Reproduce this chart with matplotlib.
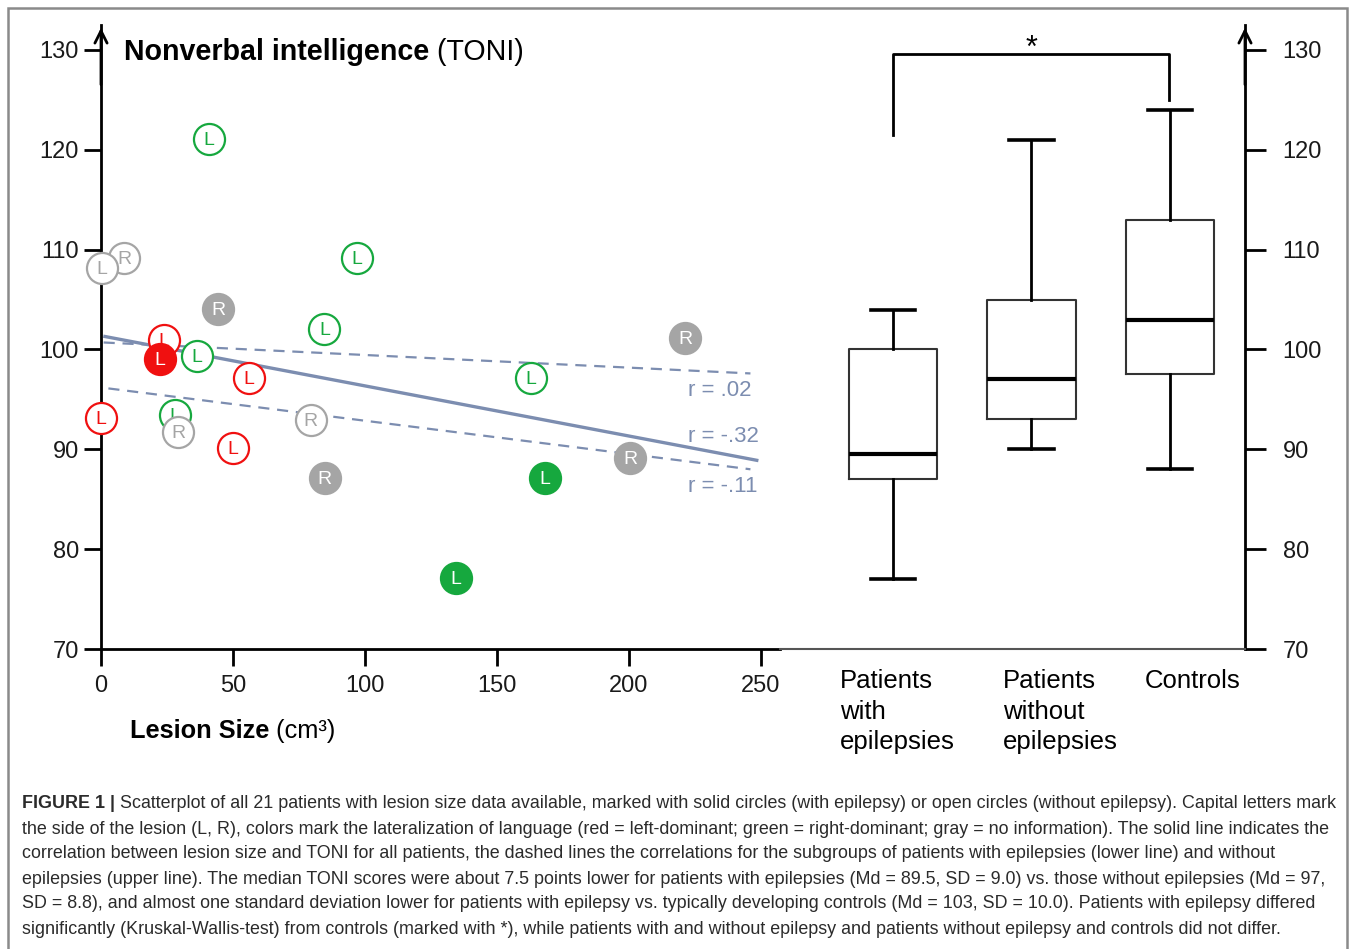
import matplotlib
matplotlib.use("Agg")
import matplotlib.pyplot as plt
from matplotlib.patches import Rectangle

plt.rcParams['font.family'] = ['Liberation Sans', 'DejaVu Sans']

# scatter data: lesion size (cm3), TONI score, lesion side, language dominance, epilepsy
lesion_size = [8.7, 0.4, 40.9, 97.0, 44.3, 84.6, 23.9, 22.3, 36.4, 56.0, 221.4,
               162.7, 0.0, 28.0, 29.2, 79.4, 50.0, 200.5, 84.7, 168.3, 134.5]
toni = [109.2, 108.2, 121.1, 109.2, 104.1, 102.1, 100.9, 99.0, 99.3, 97.1, 101.1,
        97.1, 93.1, 93.4, 91.7, 92.9, 90.1, 89.1, 87.1, 87.1, 77.1]
side = ['R', 'L', 'L', 'L', 'R', 'L', 'L', 'L', 'L', 'L', 'R',
        'L', 'L', 'L', 'R', 'R', 'L', 'R', 'R', 'L', 'L']
language = ['none', 'none', 'right', 'right', 'none', 'right', 'left', 'left', 'right', 'left', 'none',
            'right', 'left', 'right', 'none', 'none', 'left', 'none', 'none', 'right', 'right']
epilepsy = [False, False, False, False, True, False, False, True, False, False, True,
            False, False, False, False, False, False, True, True, True, True]

# regression lines (endpoints) and correlations
fit_x_all = [1.5, 248.4]
fit_y_all = [101.3, 88.9]
fit_x_without = [1.0, 246.0]
fit_y_without = [100.7, 97.6]
fit_x_with = [2.8, 246.0]
fit_y_with = [96.1, 88.0]
r_labels = ['r = .02', 'r = -.32', 'r = -.11']
r_label_y = [95.9, 91.3, 86.3]

# box plot summaries
groups = ['Patients\nwith\nepilepsies', 'Patients\nwithout\nepilepsies', 'Controls']
whisker_low = [77, 90, 88]
q1 = [87, 93, 97.5]
median = [89.5, 97, 103]
q3 = [100, 105, 113]
whisker_high = [104, 121, 124]

lang_colors = {'left': '#f01010', 'right': '#16a83e', 'none': '#a5a5a5'}
line_color = '#7c8db0'

W, H = 1357, 949
fig = plt.figure(figsize=(W / 100, H / 100), dpi=100)


def fx(x):
    return x / W


def fy(y):
    return 1 - y / H


# frame around the figure
fig.add_artist(Rectangle((fx(8), fy(960)), fx(1347) - fx(8), fy(8) - fy(960),
                         transform=fig.transFigure, fill=False, edgecolor='#8a8a8a', lw=1.8))

# ---- scatter panel ----
ax = fig.add_axes([fx(101), fy(649), fx(780) - fx(101), fy(25) - fy(649)])
ax.set_xlim(0, 257.2)
ax.set_ylim(70, 132.5)
for s in ['top', 'right']:
    ax.spines[s].set_visible(False)
ax.spines['left'].set_linewidth(2)
ax.spines['bottom'].set_linewidth(2)
ax.set_xticks([0, 50, 100, 150, 200, 250])
ax.set_yticks([70, 80, 90, 100, 110, 120, 130])
ax.tick_params(axis='both', length=12, width=2, labelsize=17, colors='black', labelcolor='#1a1a1a')
ax.tick_params(axis='x', pad=7)
ax.tick_params(axis='y', pad=4)
ax.annotate('', xy=(0, 1.0), xytext=(0, 0.9), xycoords='axes fraction',
            arrowprops=dict(arrowstyle='->', lw=2, color='black', mutation_scale=22))

ax.plot(fit_x_all, fit_y_all, color=line_color, lw=2.4, zorder=2)
ax.plot(fit_x_without, fit_y_without, color=line_color, lw=1.6, ls=(0, (5, 3.5)), zorder=2)
ax.plot(fit_x_with, fit_y_with, color=line_color, lw=1.6, ls=(0, (5, 3.5)), zorder=2)
for lab, yy in zip(r_labels, r_label_y):
    ax.text(222.5, yy, lab, color=line_color, fontsize=16, va='center', ha='left')

for i in range(len(lesion_size)):
    c = lang_colors[language[i]]
    face = c if epilepsy[i] else 'white'
    txt = 'white' if epilepsy[i] else c
    ax.scatter(lesion_size[i], toni[i], s=500, facecolor=face, edgecolor=c,
               linewidth=1.6, zorder=3 + 2 * i, clip_on=False)
    ax.text(lesion_size[i], toni[i] - 0.15, side[i], color=txt, fontsize=14,
            ha='center', va='center', zorder=4 + 2 * i)

t1 = fig.text(fx(124), fy(52), 'Nonverbal intelligence', fontsize=20.6, fontweight='bold', va='center')
ax.annotate(' (TONI)', xy=(1, 0), xycoords=t1, fontsize=20.6, va='bottom', ha='left')
t2 = fig.text(fx(130), fy(731), 'Lesion Size', fontsize=18.3, fontweight='bold', va='center')
ax.annotate(' (cm³)', xy=(1, 0), xycoords=t2, fontsize=18.3, va='bottom', ha='left')

# ---- box plot panel ----
bx = fig.add_axes([fx(780), fy(649), fx(1245) - fx(780), fy(25) - fy(649)])
bx.set_xlim(0.184, 3.542)
bx.set_ylim(70, 132.5)
for s in ['top', 'left']:
    bx.spines[s].set_visible(False)
bx.spines['bottom'].set_color('#555555')
bx.spines['bottom'].set_linewidth(1.5)
bx.spines['right'].set_linewidth(2)
bx.yaxis.tick_right()

stats = []
for i in range(3):
    stats.append(dict(whislo=whisker_low[i], q1=q1[i], med=median[i], q3=q3[i],
                      whishi=whisker_high[i], fliers=[]))
bx.bxp(stats, positions=[1, 2, 3], widths=0.64, capwidths=0.32, showfliers=False,
       manage_ticks=False,
       boxprops=dict(color='#333333', lw=1.5),
       medianprops=dict(color='black', lw=3),
       whiskerprops=dict(color='black', lw=2),
       capprops=dict(color='black', lw=2.6))
bx.set_xlim(0.184, 3.542)
bx.set_xticks([])
bx.set_yticks([70, 80, 90, 100, 110, 120, 130])
bx.tick_params(axis='y', length=15, width=2, labelsize=17, pad=12, labelcolor='#1a1a1a')
bx.annotate('', xy=(1, 1.0), xytext=(1, 0.9), xycoords='axes fraction',
            arrowprops=dict(arrowstyle='->', lw=2, color='black', mutation_scale=22))

# significance bracket
bx.plot([1.0, 1.0, 2.993, 2.993], [121.5, 129.6, 129.6, 125.0], color='black', lw=2, clip_on=False)
bx.text(2.0, 130.1, '*', fontsize=22, ha='center', va='center')

label_x = [0.617, 1.794, 2.82]
for lx, g in zip(label_x, groups):
    bx.text(lx, 68.0, g, fontsize=18.5, ha='left', va='top', linespacing=1.35)

# ---- caption ----
caption = [
    " Scatterplot of all 21 patients with lesion size data available, marked with solid circles (with epilepsy) or open circles (without epilepsy). Capital letters mark",
    "the side of the lesion (L, R), colors mark the lateralization of language (red = left-dominant; green = right-dominant; gray = no information). The solid line indicates the",
    "correlation between lesion size and TONI for all patients, the dashed lines the correlations for the subgroups of patients with epilepsies (lower line) and without",
    "epilepsies (upper line). The median TONI scores were about 7.5 points lower for patients with epilepsies (Md = 89.5, SD = 9.0) vs. those without epilepsies (Md = 97,",
    "SD = 8.8), and almost one standard deviation lower for patients with epilepsy vs. typically developing controls (Md = 103, SD = 10.0). Patients with epilepsy differed",
    "significantly (Kruskal-Wallis-test) from controls (marked with *), while patients with and without epilepsy and patients without epilepsy and controls did not differ.",
]
caption_y = [803, 829, 854, 879, 904, 930]
cap_color = '#2b2b2b'
cap_size = 12.85
c0 = fig.text(fx(22), fy(caption_y[0]), 'FIGURE 1 |', fontsize=cap_size, fontweight='bold',
              va='center', color=cap_color)
ax.annotate(caption[0], xy=(1, 0), xycoords=c0, fontsize=cap_size, va='bottom', ha='left', color=cap_color)
for line, yy in zip(caption[1:], caption_y[1:]):
    fig.text(fx(22), fy(yy), line, fontsize=cap_size, va='center', color=cap_color)

fig.savefig('out.png', dpi=100)
